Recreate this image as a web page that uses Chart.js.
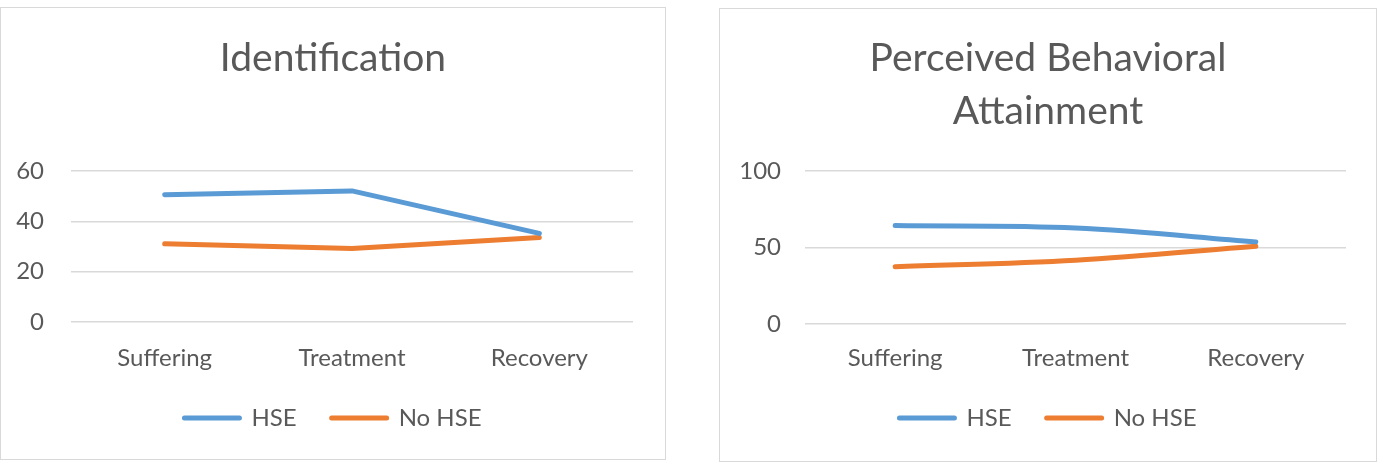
<!DOCTYPE html>
<html>
<head>
<meta charset="utf-8">
<script src="https://cdn.jsdelivr.net/npm/chart.js@4"></script>
<style>
  body { margin: 0; background: #fff; width: 1383px; height: 470px; position: relative; overflow: hidden; }
  .panel { position: absolute; border: 1px solid #d9d9d9; background: #fff; }
  #p1 { left: 0; top: 7px; width: 664px; height: 451px; }
  #p2 { left: 719px; top: 8px; width: 656px; height: 452px; }
  canvas { display: block; }
</style>
</head>
<body>
<div class="panel" id="p1"><canvas id="c1"></canvas></div>
<div class="panel" id="p2"><canvas id="c2"></canvas></div>
<script>
// data
const categories = ['Suffering', 'Treatment', 'Recovery'];
const seriesNames = ['HSE', 'No HSE'];
const identHSE = [50.6, 52.1, 35.2];
const identNoHSE = [31.1, 29.2, 33.6];
const pbaHSE = [64.4, 62.8, 53.7];
const pbaNoHSE = [37.4, 41.7, 50.9];
const identTicks = [0, 20, 40, 60];
const pbaTicks = [0, 50, 100];

const BLUE = '#5b9bd5';
const ORANGE = '#ed7d31';
const TEXT = '#595959';
const GRID = '#d9d9d9';
const FONT = 'Lato';

function makeChart(id, w, h, cfg) {
    const canvas = document.getElementById(id);
    canvas.width = w; canvas.height = h;
    canvas.style.width = w + 'px'; canvas.style.height = h + 'px';

    const line = (label, data, color) => ({
        label, data,
        borderColor: color,
        backgroundColor: color,
        borderWidth: 5,
        borderCapStyle: 'round',
        borderJoinStyle: 'round',
        pointRadius: 0,
        tension: cfg.tension
    });

    return new Chart(canvas.getContext('2d'), {
        type: 'line',
        data: {
            labels: categories,
            datasets: [
                line(seriesNames[0], cfg.a, BLUE),
                line(seriesNames[1], cfg.b, ORANGE)
            ]
        },
        options: {
            responsive: false,
            animation: false,
            layout: { padding: { left: 0, right: 0, top: 0, bottom: cfg.padBottom } },
            plugins: {
                title: {
                    display: true,
                    text: cfg.title,
                    color: TEXT,
                    font: { family: FONT, size: 39, weight: 'normal', lineHeight: 1.36 },
                    padding: { top: cfg.titleTop, bottom: cfg.titleBottom }
                },
                legend: {
                    position: 'bottom',
                    labels: {
                        color: TEXT,
                        font: { family: FONT, size: 24 },
                        boxWidth: 55,
                        boxHeight: 0,
                        padding: 35
                    }
                },
                tooltip: { enabled: false }
            },
            scales: {
                x: {
                    offset: true,
                    grid: { display: false, drawTicks: false },
                    border: { display: false },
                    ticks: { color: TEXT, font: { family: FONT, size: 24 }, padding: cfg.xPad, maxRotation: 0 },
                    afterFit: s => { s.height = cfg.xH; }
                },
                y: {
                    min: cfg.ticks[0],
                    max: cfg.ticks[cfg.ticks.length - 1],
                    afterBuildTicks: s => { s.ticks = cfg.ticks.map(v => ({ value: v })); },
                    grid: { color: GRID, lineWidth: 1.5, drawTicks: false },
                    border: { display: false },
                    ticks: { color: TEXT, font: { family: FONT, size: 24 }, padding: cfg.yPad },
                    afterFit: s => { s.width = cfg.yW; }
                },
                // empty right-hand axis, only keeps the right margin so title and legend stay centred
                yRight: {
                    position: 'right',
                    grid: { display: false, drawTicks: false },
                    border: { display: false },
                    ticks: { display: false },
                    afterFit: s => { s.width = cfg.rightW; }
                }
            }
        }
    });
}

makeChart('c1', 664, 451, {
    title: 'Identification',
    a: identHSE, b: identNoHSE, ticks: identTicks, tension: 0,
    padBottom: 19,
    titleTop: 23.5, titleBottom: 86.5,
    xPad: 21.5, xH: 49, yPad: 27, yW: 70, rightW: 32
});

makeChart('c2', 656, 452, {
    title: ['Perceived Behavioral', 'Attainment'],
    a: pbaHSE, b: pbaNoHSE, ticks: pbaTicks, tension: 0.35,
    padBottom: 21,
    titleTop: 22.5, titleBottom: 33.5,
    xPad: 19.5, xH: 47, yPad: 24, yW: 85, rightW: 30
});
</script>
</body>
</html>
